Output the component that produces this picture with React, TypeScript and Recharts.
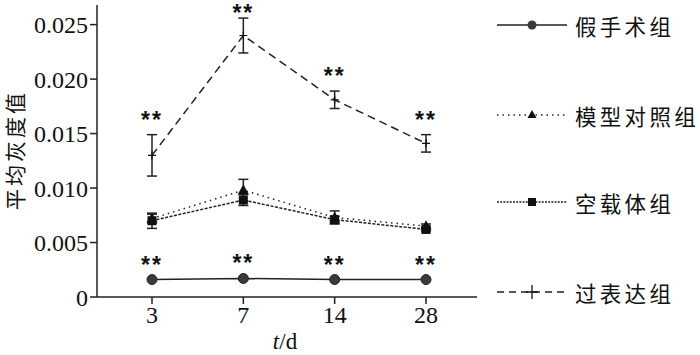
import React from "react";
import {
  LineChart,
  Line,
  XAxis,
  YAxis,
  ErrorBar,
  LabelList,
  Legend,
} from "recharts";

const days = ["3", "7", "14", "28"];
const yTicks = [0, 0.005, 0.01, 0.015, 0.02, 0.025];

const sham = [0.0016, 0.0017, 0.0016, 0.0016];
const model = [0.0072, 0.0098, 0.0073, 0.0065];
const modelErr = [0.0004, 0.001, 0.0006, 0.0002];
const vehicle = [0.007, 0.0089, 0.0071, 0.0062];
const vehicleErr = [0.0007, 0.0005, 0.0003, 0.0002];
const over = [0.013, 0.024, 0.0181, 0.0141];
const overErr = [0.0019, 0.0016, 0.0008, 0.0008];

const seriesNames = ["假手术组", "模型对照组", "空载体组", "过表达组"];

const data = days.map((d, i) => ({
  day: d,
  sham: sham[i],
  model: model[i],
  modelErr: modelErr[i],
  vehicle: vehicle[i],
  vehicleErr: vehicleErr[i],
  over: over[i],
  overErr: overErr[i],
  overStar: over[i] + overErr[i],
}));

const INK = "#222";
const CJK = '"Noto Sans CJK SC", "Noto Sans", sans-serif';
const SERIF = '"Liberation Serif", "DejaVu Serif", serif';

const Circle = (p: any) => (
  <circle key={`c${p.index}`} cx={p.cx} cy={p.cy} r={5} fill="#3a3a3a" stroke="#222" strokeWidth={1} />
);
const Triangle = (p: any) => (
  <path
    key={`t${p.index}`}
    d={`M${p.cx},${p.cy - 6} L${p.cx + 5.5},${p.cy + 4} L${p.cx - 5.5},${p.cy + 4} Z`}
    fill="#111"
  />
);
const Square = (p: any) => (
  <rect key={`s${p.index}`} x={p.cx - 4.5} y={p.cy - 4.5} width={9} height={9} fill="#111" />
);
const Plus = (p: any) => (
  <path
    key={`p${p.index}`}
    d={`M${p.cx - 4},${p.cy} H${p.cx + 4} M${p.cx},${p.cy - 4} V${p.cy + 4}`}
    stroke="#111"
    strokeWidth={1.2}
    fill="none"
  />
);

const Stars = (p: any) => (
  <text
    x={p.x}
    y={Math.max(p.y + 1, 21)}
    textAnchor="middle"
    fontFamily='"Liberation Sans", sans-serif'
    fontWeight="bold"
    fontSize={23}
    letterSpacing={2}
    fill="#111"
  >
    **
  </text>
);

const legendStyles = [
  { dash: undefined, marker: "circle" },
  { dash: "1.5 4", marker: "triangle" },
  { dash: "2 1.2", marker: "square" },
  { dash: "7 5", marker: "plus" },
];
const legendYs = [25, 115, 202, 292];

const LegendContent = () => (
  <svg width={210} height={355} style={{ display: "block" }}>
    {seriesNames.map((name, i) => {
      const y = legendYs[i];
      const x1 = 7;
      const x2 = 77;
      const cx = 42;
      const st = legendStyles[i];
      let marker: any = null;
      if (st.marker === "circle") marker = <circle cx={cx} cy={y} r={4.5} fill="#3a3a3a" />;
      if (st.marker === "triangle")
        marker = <path d={`M${cx},${y - 5} L${cx + 4.5},${y + 3} L${cx - 4.5},${y + 3} Z`} fill="#111" />;
      if (st.marker === "square") marker = <rect x={cx - 4} y={y - 4} width={8} height={8} fill="#111" />;
      if (st.marker === "plus")
        marker = (
          <path d={`M${cx - 6},${y} H${cx + 6} M${cx},${y - 7} V${y + 7}`} stroke="#111" strokeWidth={1.3} />
        );
      return (
        <g key={name}>
          <line x1={x1} x2={x2} y1={y} y2={y} stroke={INK} strokeWidth={1.4} strokeDasharray={st.dash} />
          {marker}
          <text
            x={85}
            y={y}
            dominantBaseline="central"
            fontFamily={CJK}
            fontSize={21.5}
            letterSpacing={3.3}
            fill="#111"
          >
            {name}
          </text>
        </g>
      );
    })}
  </svg>
);

export default function App() {
  return (
    <div style={{ position: "relative", width: 700, height: 355, background: "#fff" }}>
      <style>{`body{margin:0}`}</style>
      <LineChart
        width={700}
        height={355}
        data={data}
        margin={{ top: 5, right: 223, bottom: 18, left: 0 }}
      >
        <XAxis
          dataKey="day"
          type="category"
          ticks={days}
          padding={{ left: 55, right: 51 }}
          height={40}
          axisLine={{ stroke: INK, strokeWidth: 1.5 }}
          tickLine={{ stroke: INK, strokeWidth: 1.5 }}
          tickSize={7}
          tick={{ fill: "#111", fontSize: 24, fontFamily: SERIF }}
          label={(props: any) => (
            <text x={285} y={349} textAnchor="middle" fontFamily={SERIF} fontSize={23} fill="#111">
              <tspan fontStyle="italic">t</tspan>/d
            </text>
          )}
        />
        <YAxis
          type="number"
          domain={[0, 0.0268]}
          ticks={yTicks}
          width={97}
          axisLine={{ stroke: INK, strokeWidth: 1.5 }}
          tickLine={{ stroke: INK, strokeWidth: 1.5 }}
          tickSize={7}
          tickFormatter={(v: number) => (v === 0 ? "0" : v.toFixed(3))}
          tick={{ fill: "#111", fontSize: 24, fontFamily: SERIF }}
          label={(props: any) => (
            <text
              x={14}
              y={150}
              transform="rotate(-90 14 150)"
              textAnchor="middle"
              dominantBaseline="central"
              fontFamily={CJK}
              fontSize={21}
              letterSpacing={3}
              fill="#111"
            >
              平均灰度值
            </text>
          )}
        />
        <Legend
          layout="horizontal"
          verticalAlign="middle"
          align="center"
          content={() => <LegendContent />}
          wrapperStyle={{ position: "absolute", left: 490, top: 0, width: 210, height: 355 }}
        />
        <Line
          dataKey="sham"
          name={seriesNames[0]}
          stroke={INK}
          strokeWidth={1.5}
          dot={Circle}
          activeDot={false}
          isAnimationActive={false}
        >
          <LabelList dataKey="sham" content={(p: any) => <Stars {...p} y={p.y - 8} />} />
        </Line>
        <Line
          dataKey="model"
          name={seriesNames[1]}
          stroke={INK}
          strokeWidth={1.5}
          strokeDasharray="1.5 4"
          dot={Triangle}
          activeDot={false}
          isAnimationActive={false}
        >
          <ErrorBar dataKey="modelErr" width={5} stroke={INK} strokeWidth={1.5} direction="y" />
        </Line>
        <Line
          dataKey="vehicle"
          name={seriesNames[2]}
          stroke={INK}
          strokeWidth={1.5}
          strokeDasharray="3 1.5"
          dot={Square}
          activeDot={false}
          isAnimationActive={false}
        >
          <ErrorBar dataKey="vehicleErr" width={5} stroke={INK} strokeWidth={1.5} direction="y" />
        </Line>
        <Line
          dataKey="over"
          name={seriesNames[3]}
          stroke={INK}
          strokeWidth={1.5}
          strokeDasharray="8 5"
          dot={Plus}
          activeDot={false}
          isAnimationActive={false}
        >
          <ErrorBar dataKey="overErr" width={5} stroke={INK} strokeWidth={1.5} direction="y" />
        </Line>
        <Line
          dataKey="overStar"
          stroke="none"
          dot={false}
          activeDot={false}
          legendType="none"
          isAnimationActive={false}
        >
          <LabelList dataKey="overStar" content={(p: any) => <Stars {...p} y={p.y - 8} />} />
        </Line>
      </LineChart>
    </div>
  );
}
